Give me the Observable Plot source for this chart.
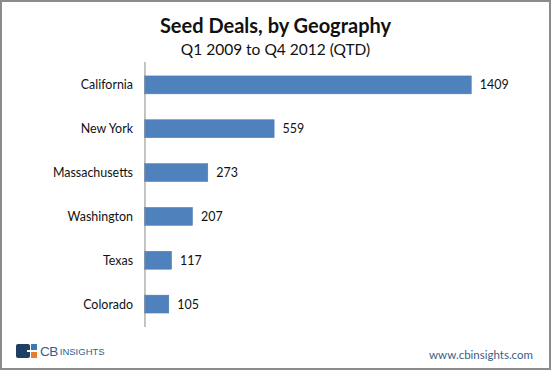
<!DOCTYPE html>
<html>
<head>
<meta charset="utf-8">
<script src="https://cdn.jsdelivr.net/npm/d3@7"></script>
<script src="https://cdn.jsdelivr.net/npm/@observablehq/plot@0.6"></script>
<style>
  html, body { margin: 0; padding: 0; background: #fff; }
  #frame { position: relative; width: 551px; height: 370px; box-sizing: border-box; border: 2px solid #8c8c8c; overflow: hidden; font-family: Lato, "Open Sans", sans-serif; }
  #title { position: absolute; left: 0; width: 547px; top: 11px; text-align: center; font-size: 20px; font-weight: bold; color: #111; }
  #subtitle { position: absolute; left: 0; width: 547px; top: 38px; text-align: center; font-size: 15.5px; color: #111; }
  #chart { position: absolute; left: -2px; top: 53px; }
  #logo { position: absolute; left: 14px; top: 342px; height: 14px; display: flex; align-items: center; }
  #url { position: absolute; right: 16px; top: 346px; font-size: 11.5px; color: #3b5e86; }
</style>
</head>
<body>
<div id="frame">
  <div id="title">Seed Deals, by Geography</div>
  <div id="subtitle">Q1 2009 to Q4 2012 (QTD)</div>
  <div id="chart"></div>
  <div id="logo">
    <svg width="21" height="14" viewBox="0 0 21 14">
      <rect x="0" y="0" width="14" height="14" rx="2" fill="#1f3f66"/>
      <rect x="15" y="0" width="6" height="6" fill="#3d7ab5"/>
      <rect x="15" y="8" width="6" height="6" fill="#e87d2c"/>
      <rect x="11" y="6" width="10" height="2" fill="#ffffff"/>
    </svg>
    <span style="margin-left:3px;font-size:13.5px;color:#2f5f8f;font-family:'Liberation Sans','DejaVu Sans',sans-serif;letter-spacing:-0.5px">CB</span>
    <span style="margin-left:2px;font-size:9.5px;color:#2f5f8f;font-family:'Liberation Sans Narrow','Liberation Sans',sans-serif;">INSIGHTS</span>
  </div>
  <div id="url">www.cbinsights.com</div>
</div>
<script>
const states = ["California", "New York", "Massachusetts", "Washington", "Texas", "Colorado"];
const deals = [1409, 559, 273, 207, 117, 105];

const data = states.map((s, i) => ({state: s, deals: deals[i]}));

const chart = Plot.plot({
  width: 551,
  height: 280,
  marginLeft: 145,
  marginRight: 78,
  marginTop: 7,
  marginBottom: 7,
  style: {fontFamily: "Lato, 'Open Sans', sans-serif", fontSize: "12px", color: "#111", background: "transparent"},
  x: {domain: [0, 1409], axis: null},
  y: {domain: states, paddingInner: 0.6, paddingOuter: 0.3, label: null},
  marks: [
    Plot.barX(data, {x: "deals", y: "state", fill: "#4f81bd", stroke: "#4a7ab4", strokeWidth: 0.5}),
    Plot.axisY({tickSize: 0, tickPadding: 12, label: null, fontSize: 12.5}),
    Plot.ruleX([0], {stroke: "#8a8a8a", strokeWidth: 1}),
    Plot.text(data, {x: "deals", y: "state", text: d => String(d.deals), textAnchor: "start", dx: 8, fontSize: 12.5, fill: "#111"})
  ]
});
document.getElementById("chart").appendChild(chart);
</script>
</body>
</html>
